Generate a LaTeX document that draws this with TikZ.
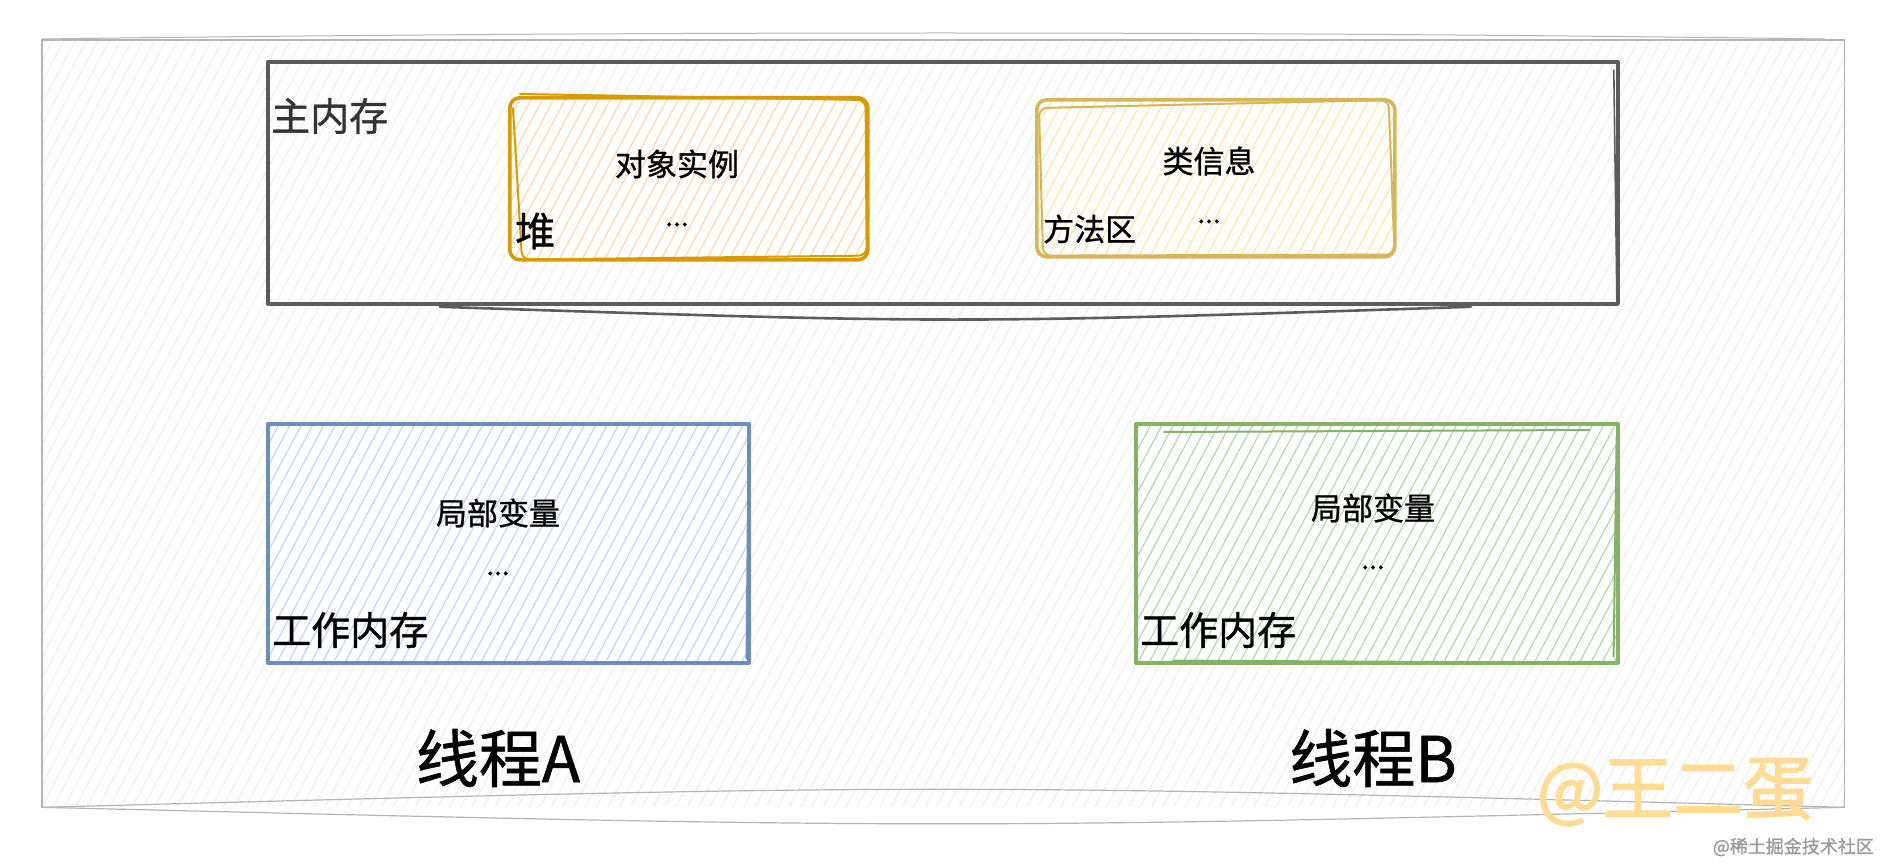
\documentclass[tikz,border=0pt]{standalone}
\usepackage{fontspec}
\setmainfont{Noto Sans CJK SC}[FakeBold=0.9]
\newfontfamily\wmfont{Noto Sans CJK SC}[FakeBold=2]
\usetikzlibrary{patterns.meta}
\definecolor{outerline}{HTML}{B5B5B5}
\definecolor{hatchgray}{HTML}{F1F1F1}
\definecolor{mainline}{HTML}{5C5C5C}
\definecolor{heapline}{HTML}{D79B00}
\definecolor{heaphatch}{HTML}{FCD9B2}
\definecolor{methline}{HTML}{D6B656}
\definecolor{methhatch}{HTML}{F9EAAE}
\definecolor{blueline}{HTML}{6C8EBF}
\definecolor{bluehatch}{HTML}{C3D6F5}
\definecolor{greenline}{HTML}{82B366}
\definecolor{greenhatch}{HTML}{B9D9AF}
\definecolor{maintext}{HTML}{333333}
\definecolor{wmorange}{HTML}{FFDB94}
\definecolor{wmgray}{HTML}{9A9A9A}
\tikzset{
  boxbase/.style={rectangle, anchor=north west, inner sep=0pt, line cap=round, line join=round},
  hatch/.style={pattern={Lines[angle=62,distance=10pt,line width=1.3pt]}, pattern color=#1},
  innerbox/.style={boxbase, preaction={fill=white}, hatch=#1, line width=3.6pt},
  skline/.style={line cap=round, line join=round},
  midtext/.style={inner sep=0pt, font=\fontsize{31}{36}\selectfont},
  bigtext/.style={inner sep=0pt, anchor=west, font=\fontsize{39}{44}\selectfont},
  dots/.style={inner sep=0pt, anchor=base, font=\fontsize{28}{32}\selectfont},
  threadtext/.style={inner sep=0pt, font=\fontsize{63}{70}\selectfont}
}
\begin{document}
\begin{tikzpicture}[x=1pt,y=-1pt]
\useasboundingbox (0,0) rectangle (1880,864);
\fill[white] (0,0) rectangle (1880,864);

% outer container
\node[boxbase, hatch=hatchgray,
      minimum width=1801pt, minimum height=766pt] (outer) at (42,40) {};
\draw[skline, outerline, line width=1.3pt]
  (outer.south west) -- (outer.north west) -- (outer.north east) -- (outer.south east);
\draw[skline, outerline, line width=1pt]
  ([shift={(0,-1)}]outer.north west) .. controls ([shift={(600,-9)}]outer.north west) and ([shift={(-600,-9)}]outer.north east) .. ([shift={(-20,-1)}]outer.north east);
\draw[skline, outerline, line width=1.2pt]
  (outer.south west) .. controls ([shift={(900,-24)}]outer.south west) .. (outer.south east);
\draw[skline, outerline, line width=1.2pt]
  (outer.south west) .. controls ([shift={(900,22)}]outer.south west) .. (outer.south east);

% main memory
\node[boxbase, draw=mainline, line width=3.8pt,
      minimum width=1350pt, minimum height=242pt] (main) at (266,60) {};
\draw[skline, mainline, line width=2.2pt]
  ([shift={(210,3)}]main.north west) -- ([shift={(-100,3)}]main.north east);
\draw[skline, mainline, line width=2.6pt]
  ([shift={(174,1)}]main.south west) .. controls ([shift={(688,18)}]main.south west) .. ([shift={(-149,1)}]main.south east);
\draw[skline, mainline, line width=1.6pt]
  ([shift={(-6,10)}]main.north east) -- ([shift={(-3,-12)}]main.south east);
\node[bigtext, text=maintext] (mainlbl) at (271,116) {主内存};

% heap
\node[innerbox=heaphatch, draw=heapline, rounded corners=10pt,
      minimum width=358pt, minimum height=162pt] (heap) at (508,96) {};
\draw[skline, heapline, line width=2pt, rounded corners=8pt]
  ([shift={(12,-2)}]heap.north west) -- ([shift={(-4,4)}]heap.north east) -- ([shift={(-3,-6)}]heap.south east) -- ([shift={(14,-2)}]heap.south west) -- ([shift={(5,12)}]heap.north west);
\node[midtext] (heapobj) at (677,164) {对象实例};
\node[dots] (heapdots) at (677,226) {...};
\node[bigtext, font=\fontsize{40}{44}\selectfont] (heaplbl) at (515,231) {堆};

% method area
\node[innerbox=methhatch, draw=methline, rounded corners=10pt,
      minimum width=358pt, minimum height=157pt] (meth) at (1035,98) {};
\draw[skline, methline, line width=2pt, rounded corners=8pt]
  ([shift={(4,10)}]meth.north west) -- ([shift={(-8,2)}]meth.north east) -- ([shift={(-2,-4)}]meth.south east) -- ([shift={(8,-3)}]meth.south west) -- cycle;
\node[midtext] (methcls) at (1209,161) {类信息};
\node[dots] (methdots) at (1209,223) {...};
\node[midtext, anchor=west] (methlbl) at (1043,229) {方法区};

% thread A working memory
\node[innerbox=bluehatch, draw=blueline,
      minimum width=481pt, minimum height=239pt] (wa) at (266,422) {};
\draw[skline, blueline, line width=2pt]
  ([shift={(-2,10)}]wa.north east) -- ([shift={(-4,-6)}]wa.south east);
\draw[skline, blueline, line width=2pt]
  ([shift={(280,-3)}]wa.south west) -- ([shift={(-6,-1)}]wa.south east);
\node[midtext] (vara) at (498,513) {局部变量};
\node[dots] (dotsa) at (498,575) {...};
\node[bigtext] (wmemA) at (272,630) {工作内存};

% thread B working memory
\node[innerbox=greenhatch, draw=greenline,
      minimum width=482pt, minimum height=239pt] (wb) at (1134,422) {};
\draw[skline, greenline, line width=2pt]
  ([shift={(30,10)}]wb.north west) -- ([shift={(-30,8)}]wb.north east);
\draw[skline, greenline, line width=2pt]
  ([shift={(-3,15)}]wb.north east) -- ([shift={(-6,-8)}]wb.south east);
\draw[skline, greenline, line width=2pt]
  ([shift={(40,-4)}]wb.south west) -- ([shift={(-60,-2)}]wb.south east);
\node[midtext] (varb) at (1373,508) {局部变量};
\node[dots] (dotsb) at (1373,569) {...};
\node[bigtext] (wmemB) at (1140,630) {工作内存};

% thread labels
\node[threadtext] (ta) at (498,758) {线程A};
\node[threadtext] (tb) at (1373,758) {线程B};

% watermarks
\node[inner sep=0pt, text=wmorange, font=\wmfont\fontsize{70}{74}\selectfont] (wm1) at (1675,792) {@王二蛋};
\node[inner sep=0pt, anchor=east, text=wmgray, font=\fontsize{18}{20}\selectfont] (wm2) at (1874,847) {@稀土掘金技术社区};
\end{tikzpicture}
\end{document}
